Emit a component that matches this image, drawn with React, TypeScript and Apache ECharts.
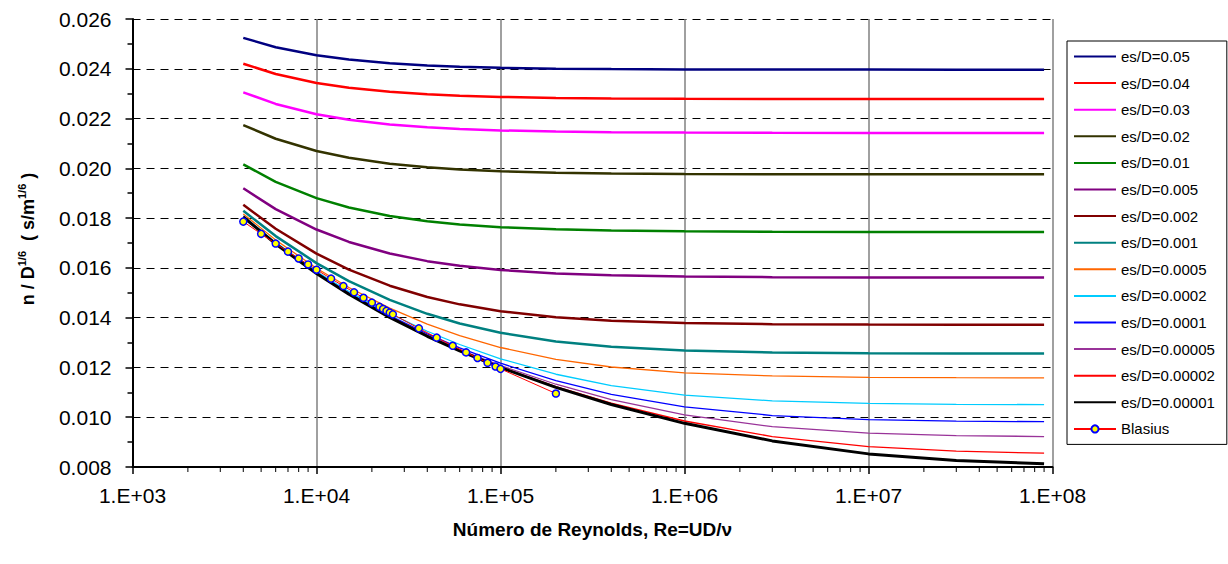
import React, { useEffect, useRef } from 'react';
import * as echarts from 'echarts';

const FONT = "'Liberation Sans', Arial, Helvetica, sans-serif";

// Reynolds numbers at which the curves are sampled
const RE = [4000, 6000, 10000, 15000, 25000, 40000, 60000, 100000, 200000, 400000, 1000000, 3000000, 10000000, 30000000, 90000000];

// n / D^(1/6) values for each relative roughness
const N_005 = [0.025243, 0.024867, 0.024544, 0.02437, 0.024223, 0.024135, 0.024083, 0.02404, 0.024005, 0.023987, 0.023975, 0.023969, 0.023966, 0.023965, 0.023965];
const N_004 = [0.024204, 0.023791, 0.023432, 0.023239, 0.023074, 0.022975, 0.022917, 0.022868, 0.022829, 0.022809, 0.022795, 0.022788, 0.022786, 0.022785, 0.022784];
const N_003 = [0.023053, 0.022587, 0.022176, 0.021954, 0.021762, 0.021647, 0.021579, 0.021522, 0.021476, 0.021451, 0.021435, 0.021427, 0.021424, 0.021423, 0.021423];
const N_002 = [0.021738, 0.021189, 0.020696, 0.020424, 0.020187, 0.020042, 0.019957, 0.019885, 0.019827, 0.019795, 0.019775, 0.019765, 0.019761, 0.01976, 0.019759];
const N_001 = [0.020156, 0.019458, 0.018802, 0.018425, 0.018086, 0.017874, 0.017746, 0.017637, 0.017548, 0.017499, 0.017468, 0.017452, 0.017446, 0.017444, 0.017443];
const N_0005 = [0.019197, 0.018363, 0.017541, 0.017043, 0.016576, 0.016271, 0.016083, 0.015916, 0.015779, 0.015703, 0.015653, 0.015628, 0.015618, 0.015614, 0.015613];
const N_0002 = [0.018535, 0.017573, 0.016574, 0.01593, 0.015285, 0.014833, 0.014535, 0.01426, 0.01402, 0.013881, 0.013787, 0.01374, 0.013721, 0.013715, 0.013712];
const N_0001 = [0.018294, 0.017277, 0.016193, 0.01547, 0.014713, 0.014155, 0.013768, 0.013392, 0.013042, 0.01283, 0.01268, 0.012602, 0.012571, 0.01256, 0.012557];
const N_00005 = [0.018169, 0.017121, 0.015986, 0.015213, 0.014381, 0.01374, 0.013277, 0.012801, 0.012328, 0.012018, 0.011784, 0.011658, 0.011605, 0.011588, 0.011582];
const N_00002 = [0.018093, 0.017025, 0.015857, 0.015049, 0.01416, 0.013454, 0.012922, 0.012348, 0.011727, 0.011273, 0.010889, 0.010656, 0.010554, 0.010519, 0.010506];
const N_00001 = [0.018067, 0.016992, 0.015812, 0.014992, 0.014082, 0.01335, 0.01279, 0.01217, 0.01147, 0.010922, 0.010413, 0.010068, 0.009901, 0.009843, 0.00982];
const N_000005 = [0.018054, 0.016976, 0.01579, 0.014964, 0.014043, 0.013297, 0.012721, 0.012075, 0.011325, 0.01071, 0.010091, 0.009619, 0.009361, 0.009263, 0.009224];
const N_000002 = [0.018047, 0.016966, 0.015777, 0.014946, 0.014019, 0.013264, 0.012678, 0.012015, 0.011231, 0.010565, 0.009848, 0.009224, 0.008815, 0.008634, 0.008555];
const N_000001 = [0.018044, 0.016963, 0.015772, 0.01494, 0.01401, 0.013253, 0.012664, 0.011995, 0.011199, 0.010513, 0.009754, 0.009049, 0.008527, 0.00826, 0.008132];

// Blasius points
const BLASIUS_RE = [4000, 5000, 6000, 7000, 8000, 9000, 10000, 12000, 14000, 16000, 18000, 20000, 22000, 23000, 24000, 25000, 26000, 36000, 45000, 55000, 65000, 75000, 85000, 94000, 100000, 200000];
const BLASIUS_N = [0.017859, 0.017368, 0.016977, 0.016653, 0.016378, 0.016138, 0.015927, 0.015568, 0.01527, 0.015018, 0.014798, 0.014604, 0.014432, 0.014351, 0.014275, 0.014202, 0.014133, 0.01357, 0.013197, 0.01287, 0.012604, 0.012381, 0.012188, 0.012036, 0.011943, 0.010952];

const NAMES = ['es/D=0.05', 'es/D=0.04', 'es/D=0.03', 'es/D=0.02', 'es/D=0.01', 'es/D=0.005', 'es/D=0.002', 'es/D=0.001', 'es/D=0.0005', 'es/D=0.0002', 'es/D=0.0001', 'es/D=0.00005', 'es/D=0.00002', 'es/D=0.00001'];
const VALUES = [N_005, N_004, N_003, N_002, N_001, N_0005, N_0002, N_0001, N_00005, N_00002, N_00001, N_000005, N_000002, N_000001];
const COLORS = ['#000080', '#FF0000', '#FF00FF', '#333300', '#008000', '#800080', '#800000', '#008080', '#FF6600', '#00CCFF', '#0000FF', '#993399', '#FF0000', '#000000'];
const WIDTHS = [2.5, 2.5, 2.5, 2.5, 2.5, 2.5, 2.5, 2.5, 1.3, 1.3, 1.3, 1.3, 1.3, 3];

// minor tick positions on the log axis
const X_MINOR = [2e3, 3e3, 4e3, 5e3, 6e3, 7e3, 8e3, 9e3, 2e4, 3e4, 4e4, 5e4, 6e4, 7e4, 8e4, 9e4, 2e5, 3e5, 4e5, 5e5, 6e5, 7e5, 8e5, 9e5, 2e6, 3e6, 4e6, 5e6, 6e6, 7e6, 8e6, 9e6, 2e7, 3e7, 4e7, 5e7, 6e7, 7e7, 8e7, 9e7];

export default function App() {
  const ref = useRef<HTMLDivElement>(null);
  useEffect(() => {
    if (!ref.current) return;
    const chart = echarts.init(ref.current, null, { renderer: 'svg' });
    const series: any[] = NAMES.map((name, i) => ({
      name,
      type: 'line',
      data: RE.map((r, j) => [r, VALUES[i][j]]),
      symbol: 'none',
      showSymbol: false,
      lineStyle: { color: COLORS[i], width: WIDTHS[i] },
      itemStyle: { color: COLORS[i] },
      z: 3,
    }));
    series.push({
      name: 'Blasius',
      type: 'line',
      data: BLASIUS_RE.map((r, j) => [r, BLASIUS_N[j]]),
      symbol: 'circle',
      symbolSize: 7,
      showSymbol: true,
      lineStyle: { color: '#FF0000', width: 1 },
      itemStyle: { color: '#FFFF00', borderColor: '#0000FF', borderWidth: 1.5 },
      z: 5,
    });
    series.push({
      type: 'custom',
      silent: true,
      clip: false,
      z: 6,
      data: X_MINOR.map((v) => [v, 0.008]),
      renderItem: (_p: any, api: any) => {
        const c = api.coord([api.value(0), api.value(1)]);
        return {
          type: 'line',
          shape: { x1: c[0], y1: c[1], x2: c[0], y2: c[1] + 5 },
          style: { stroke: '#000', lineWidth: 1 },
        };
      },
    });
    chart.setOption({
      animation: false,
      textStyle: { fontFamily: FONT },
      grid: { left: 132.5, right: 175.5, top: 19, bottom: 97, containLabel: false },
      xAxis: {
        type: 'log',
        logBase: 10,
        min: 1000,
        max: 100000000,
        axisLine: { show: true, lineStyle: { color: '#000', width: 2 } },
        axisTick: { show: true, inside: false, length: 7, lineStyle: { color: '#000', width: 1.5 } },
        axisLabel: {
          fontSize: 21,
          color: '#000',
          margin: 18,
          fontFamily: FONT,
          showMinLabel: true,
          showMaxLabel: true,
          formatter: (v: number) => '1.E+' + String(Math.round(Math.log10(v))).padStart(2, '0'),
        },
        splitLine: { show: true, lineStyle: { color: '#808080', width: 1.5 } },
        name: 'Número de Reynolds, Re=UD/ν',
        nameLocation: 'middle',
        nameGap: 53,
        nameTextStyle: { fontSize: 19, fontWeight: 'bold', color: '#000', fontFamily: FONT },
      },
      yAxis: {
        type: 'value',
        min: 0.008,
        max: 0.026,
        interval: 0.002,
        axisLine: { show: true, lineStyle: { color: '#000', width: 2 } },
        axisTick: { show: true, inside: false, length: 7, lineStyle: { color: '#000', width: 1.5 } },
        minorTick: { show: true, splitNumber: 2, length: 5, lineStyle: { color: '#000', width: 1.5 } },
        axisLabel: {
          fontSize: 21,
          color: '#000',
          margin: 21,
          fontFamily: FONT,
          formatter: (v: number) => v.toFixed(3),
        },
        splitLine: { show: true, lineStyle: { color: '#000', width: 1, type: [8, 6] } },
      },
      legend: {
        orient: 'vertical',
        left: 1067,
        top: 41,
        itemWidth: 42,
        itemHeight: 9,
        itemGap: 11.6,
        padding: [8, 12, 8, 6],
        borderColor: '#000',
        borderWidth: 1,
        backgroundColor: '#fff',
        textStyle: { fontSize: 15, color: '#000', fontFamily: FONT, lineHeight: 14 },
        data: [...NAMES.map((n) => ({ name: n, itemStyle: { opacity: 0 } })), { name: 'Blasius' }],
      },
      graphic: [
        {
          type: 'text',
          x: 28,
          y: 239,
          rotation: Math.PI / 2,
          style: {
            text: '{b|n / D}{s|1/6}{b|  ( s/m}{s|1/6}{b| )}',
            align: 'center',
            verticalAlign: 'middle',
            fill: '#000',
            rich: {
              b: { fontSize: 18, fontWeight: 'bold', fontFamily: FONT, lineHeight: 24, fill: '#000' },
              s: { fontSize: 11, fontWeight: 'bold', fontFamily: FONT, verticalAlign: 'top', fill: '#000' },
            },
          },
        },
      ],
      series,
    });
    return () => chart.dispose();
  }, []);
  return <div ref={ref} style={{ position: 'absolute', left: 0, top: 0, width: 1228, height: 564 }} />;
}
